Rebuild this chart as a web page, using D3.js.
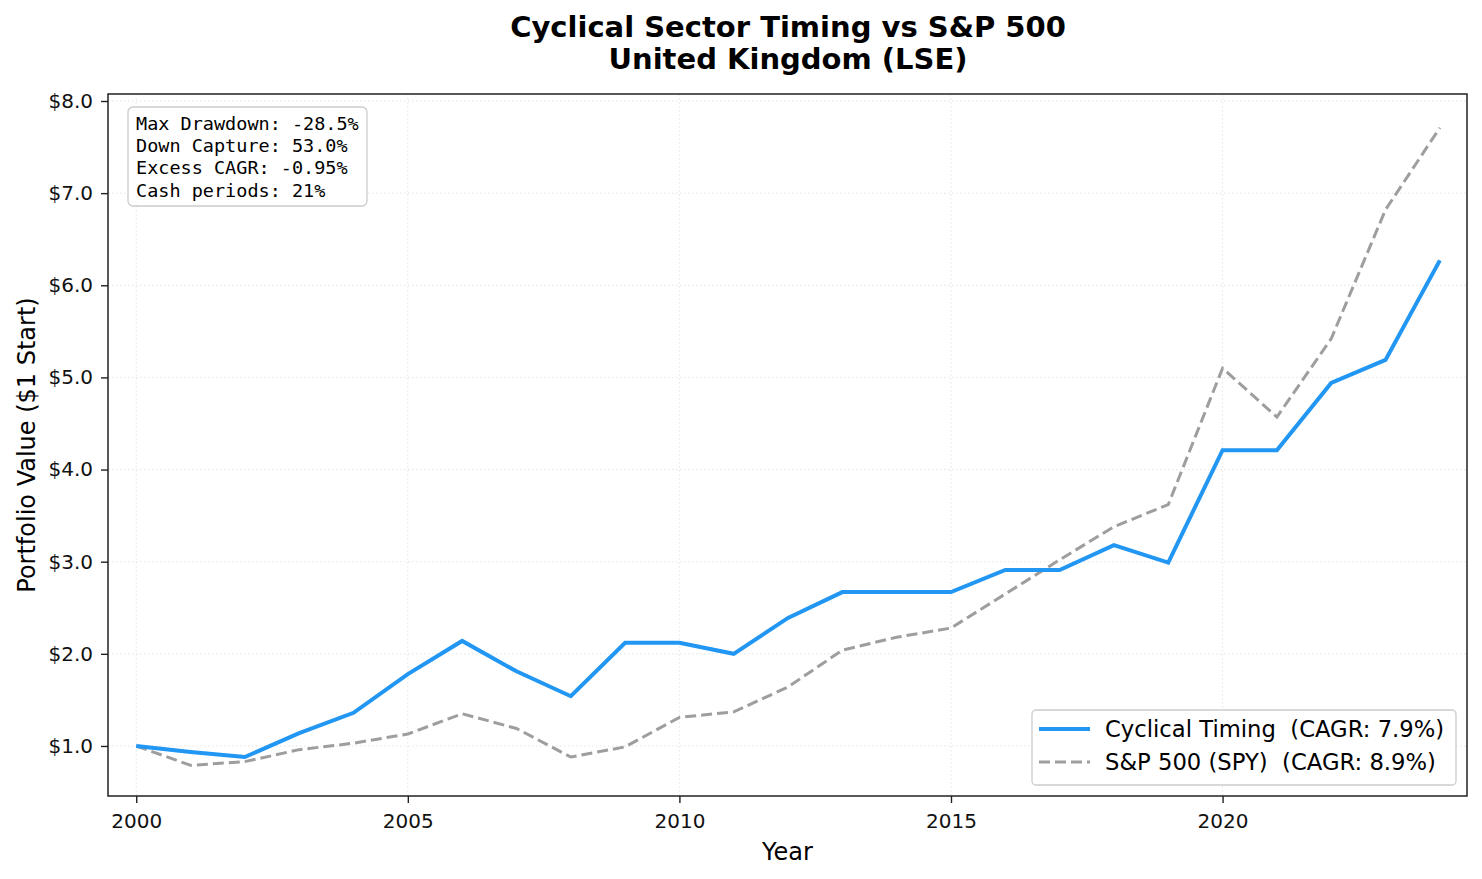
<!DOCTYPE html>
<html>
<head>
<meta charset="UTF-8">
<style>
  body { margin: 0; background: #fff; }
  svg { display: block; font-family: "DejaVu Sans", sans-serif; }
  text { white-space: pre; }
</style>
</head>
<body>
<svg width="1482" height="879"></svg>
<script src="https://d3js.org/d3.v7.min.js"></script>
<script>
const years = d3.range(2000, 2025);
const cyclical = [1.00, 0.935, 0.88, 1.14, 1.36, 1.78, 2.14, 1.81, 1.54, 2.12, 2.12, 2.00, 2.39, 2.67, 2.67, 2.67, 2.91, 2.91, 3.18, 2.99, 4.21, 4.21, 4.94, 5.19, 6.27];
const spy = [1.00, 0.79, 0.83, 0.96, 1.03, 1.13, 1.35, 1.19, 0.88, 0.99, 1.31, 1.37, 1.64, 2.04, 2.18, 2.28, 2.65, 3.02, 3.38, 3.62, 5.10, 4.57, 5.42, 6.82, 7.71];
const xTicks = [2000, 2005, 2010, 2015, 2020];
const yTicks = [1, 2, 3, 4, 5, 6, 7, 8];
const statsLines = ["Max Drawdown: -28.5%", "Down Capture: 53.0%", "Excess CAGR: -0.95%", "Cash periods: 21%"];
const legendLabels = ["Cyclical Timing  (CAGR: 7.9%)", "S&P 500 (SPY)  (CAGR: 8.9%)"];

const svg = d3.select("svg");
const pL = 108, pR = 1467, pT = 94, pB = 796;

const x = d3.scaleLinear().domain([1999.48, 2024.5]).range([pL, pR]);
const y = d3.scaleLinear().domain([0.457, 8.076]).range([pB, pT]);

// grid
const grid = svg.append("g").attr("stroke", "#ddd").attr("stroke-width", 0.8).attr("stroke-dasharray", "1.5,2.5");
grid.selectAll("line.v").data(xTicks).enter().append("line")
  .attr("x1", d => x(d)).attr("x2", d => x(d)).attr("y1", pT).attr("y2", pB);
grid.selectAll("line.h").data(yTicks).enter().append("line")
  .attr("x1", pL).attr("x2", pR).attr("y1", d => y(d)).attr("y2", d => y(d));

// lines
const line = vals => d3.line().x((d, i) => x(years[i])).y(d => y(d))(vals);
svg.append("path").attr("d", line(spy)).attr("fill", "none")
  .attr("stroke", "#9e9e9e").attr("stroke-width", 3).attr("stroke-dasharray", "11,5");
svg.append("path").attr("d", line(cyclical)).attr("fill", "none")
  .attr("stroke", "#2196f3").attr("stroke-width", 4).attr("stroke-linejoin", "miter");

// axes
const xAxis = svg.append("g").attr("transform", `translate(0,${pB})`)
  .call(d3.axisBottom(x).tickValues(xTicks).tickFormat(d3.format("d")).tickSize(7).tickPadding(11));
const yAxis = svg.append("g").attr("transform", `translate(${pL},0)`)
  .call(d3.axisLeft(y).tickValues(yTicks).tickFormat(d => "$" + d.toFixed(1)).tickSize(7).tickPadding(8));
[xAxis, yAxis].forEach(a => {
  a.select(".domain").remove();
  a.selectAll("line").attr("stroke", "#222").attr("stroke-width", 1.4);
  a.selectAll("text").attr("font-size", 20).attr("fill", "#111").attr("font-family", "DejaVu Sans");
});
svg.append("rect").attr("x", pL).attr("y", pT).attr("width", pR - pL).attr("height", pB - pT)
  .attr("fill", "none").attr("stroke", "#222").attr("stroke-width", 1.5);

// titles
svg.append("text").attr("x", 788).attr("y", 37).attr("text-anchor", "middle")
  .attr("font-size", 29).attr("font-weight", "bold").text("Cyclical Sector Timing vs S&P 500");
svg.append("text").attr("x", 788).attr("y", 69).attr("text-anchor", "middle")
  .attr("font-size", 29).attr("font-weight", "bold").text("United Kingdom (LSE)");
svg.append("text").attr("x", (pL + pR) / 2).attr("y", 860).attr("text-anchor", "middle")
  .attr("font-size", 24).text("Year");
svg.append("text").attr("transform", `translate(35,${(pT + pB) / 2}) rotate(-90)`)
  .attr("text-anchor", "middle").attr("font-size", 24).text("Portfolio Value ($1 Start)");

// stats box
const sb = svg.append("g");
sb.append("rect").attr("x", 128).attr("y", 107).attr("width", 239).attr("height", 99).attr("rx", 5)
  .attr("fill", "#fff").attr("fill-opacity", 0.9).attr("stroke", "#ccc").attr("stroke-width", 1.3);
sb.selectAll("text").data(statsLines).enter().append("text")
  .attr("x", 136).attr("y", (d, i) => 130 + i * 22.2)
  .attr("font-family", "DejaVu Sans Mono").attr("font-size", 18.5).attr("fill", "#000").text(d => d);

// legend
const lg = svg.append("g");
lg.append("rect").attr("x", 1032).attr("y", 710).attr("width", 424).attr("height", 75).attr("rx", 4)
  .attr("fill", "#fff").attr("fill-opacity", 0.9).attr("stroke", "#ccc").attr("stroke-width", 1.3);
const styles = [{ c: "#2196f3", w: 4, dash: null }, { c: "#9e9e9e", w: 3, dash: "11,5" }];
legendLabels.forEach((t, i) => {
  const yy = 729 + i * 33;
  lg.append("line").attr("x1", 1039).attr("x2", 1090).attr("y1", yy).attr("y2", yy)
    .attr("stroke", styles[i].c).attr("stroke-width", styles[i].w).attr("stroke-dasharray", styles[i].dash);
  lg.append("text").attr("x", 1105).attr("y", yy + 8).attr("font-size", 22.7).text(t);
});
</script>
</body>
</html>
